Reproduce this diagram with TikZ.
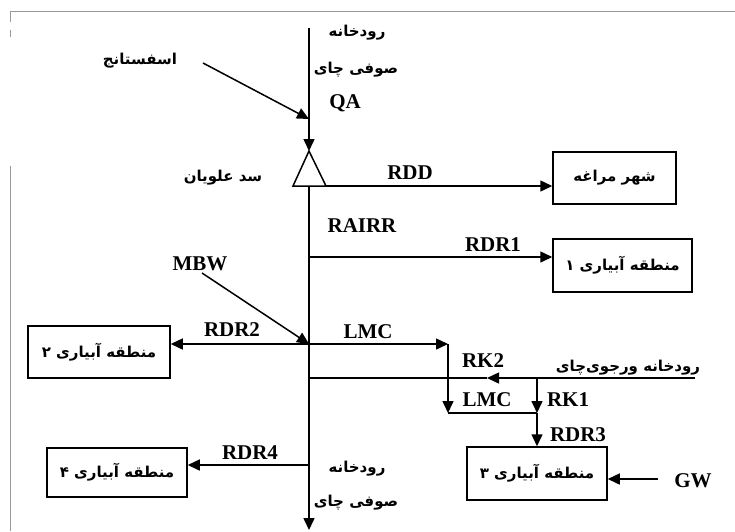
\documentclass[tikz,border=0pt]{standalone}
\usepackage{fontspec}
\setmainfont{Liberation Serif}
\newfontfamily\fa[Script=Arabic]{DejaVu Sans}
\TeXXeTstate=1
\usetikzlibrary{arrows.meta}
\tikzset{
  ln/.style={line width=1.5pt},
  arr/.style={ln,-{Triangle[length=12pt,width=11pt]}},
  bx/.style={draw,line width=1.5pt,inner sep=0pt,minimum width=#1},
  lat/.style={font=\fontsize{21}{21}\selectfont\bfseries,inner sep=0pt},
  per/.style={font=\fontsize{15}{15}\selectfont\fa\bfseries,inner sep=0pt},
  frm/.style={draw=gray!80,line width=1pt}
}
\begin{document}
\begin{tikzpicture}[x=1pt,y=-1pt]
\useasboundingbox (0,0) rectangle (735,531);
% frame
\draw[frm] (10,22) -- (10,11) -- (735,11);
\draw[frm] (10,30) -- (10,37);
\draw[frm] (10,166) -- (10,531);
% boxes
\node[bx=123pt,minimum height=52pt] (mar) at (614.5,178) {};
\node[per] at (mar) {\beginR شهر مراغه\endR};
\node[bx=139pt,minimum height=53pt] (b1) at (622.5,265.5) {};
\node[per] at (b1) {\beginR منطقه آبیاری ۱\endR};
\node[bx=142pt,minimum height=52pt] (b2) at (99,352) {};
\node[per] at (b2) {\beginR منطقه آبیاری ۲\endR};
\node[bx=140pt,minimum height=49pt] (b4) at (117,472.5) {};
\node[per] at (b4) {\beginR منطقه آبیاری ۴\endR};
\node[bx=140pt,minimum height=53pt] (b3) at (537,473.5) {};
\node[per] at (b3) {\beginR منطقه آبیاری ۳\endR};
% coordinates
\coordinate (top) at (309,28);
\coordinate (apex) at (309,151);
\coordinate (bl) at (293,186);
\coordinate (br) at (326,186);
\coordinate (base) at (309,186);
\coordinate (bottom) at (309,530);
\coordinate (isf) at (203,63);
\coordinate (isfend) at (309,119);
\coordinate (mbw) at (202,273);
\coordinate (jmbw) at (309,344);
\coordinate (jr1) at (309,257);
\coordinate (jr4) at (309,465);
\coordinate (jrk2) at (309,378);
\coordinate (c1) at (448,344);
\coordinate (c2) at (448,413);
\coordinate (c3) at (537,413);
\coordinate (rk2s) at (695,378);
\coordinate (rk2m) at (487,378);
\coordinate (rk1s) at (537,378);
\coordinate (gw) at (658,479);
% dam
\draw[ln,line join=miter] (bl) -- (apex) -- (br) -- cycle;
\draw[arr] (top) -- (apex);
\draw[arr] (isf) -- (isfend);
\draw[arr] (base) -- (bottom);
\draw[arr] (br) -- (br -| mar.west);
\draw[arr] (jr1) -- (jr1 -| b1.west);
\draw[arr] (mbw) -- (jmbw);
\draw[arr] (jmbw) -- (jmbw -| b2.east);
\draw[arr] (jmbw) -- (c1);
\draw[arr] (c1) -- (c2);
\draw[ln] (c2) -- (c3);
\draw[arr] (rk2s) -- (rk2m);
\draw[ln] (rk2m) -- (jrk2);
\draw[arr] (rk1s) -- (c3);
\draw[arr] (c3) -- (b3.north);
\draw[arr] (jr4) -- (jr4 -| b4.east);
\draw[arr] (gw) -- (gw -| b3.east);
% labels
\node[per] at (140,61) {\beginR اسفستانج\endR};
\node[per] at (357,33) {\beginR رودخانه\endR};
\node[per] at (356,70) {\beginR صوفی چای\endR};
\node[lat] at (345,103) {QA};
\node[per] at (223,178) {\beginR سد علویان\endR};
\node[lat] at (410,173) {RDD};
\node[lat] at (362,226) {RAIRR};
\node[lat] at (493,245) {RDR1};
\node[lat] at (200,264) {MBW};
\node[lat] at (232,330) {RDR2};
\node[lat] at (368,332) {LMC};
\node[lat] at (483,361) {RK2};
\node[per] at (628,368) {\beginR رودخانه ورجوی‌چای\endR};
\node[lat] at (487,400) {LMC};
\node[lat] at (568,400) {RK1};
\node[lat] at (578,435) {RDR3};
\node[lat] at (693,481) {GW};
\node[lat] at (250,453) {RDR4};
\node[per] at (357,469) {\beginR رودخانه\endR};
\node[per] at (356,503) {\beginR صوفی چای\endR};
\end{tikzpicture}
\end{document}
